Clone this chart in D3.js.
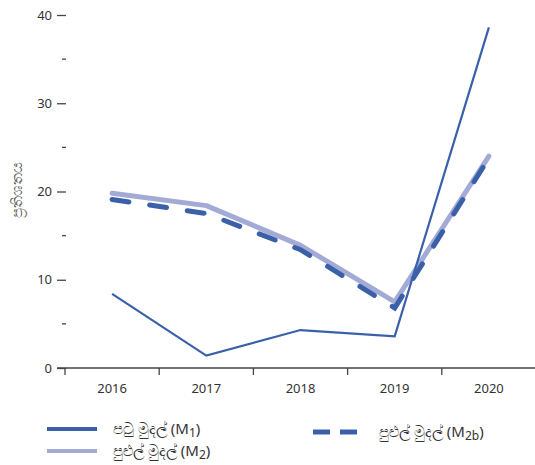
<!DOCTYPE html>
<html>
<head>
<meta charset="utf-8">
<script src="https://cdn.jsdelivr.net/npm/d3@7"></script>
<style>
  body { margin: 0; background: #fff; }
  text { font-family: "Noto Sans", "DejaVu Sans", sans-serif; }
</style>
</head>
<body>
<div id="chart"></div>
<script>
// data
const years = ["2016", "2017", "2018", "2019", "2020"];
const m1 = [8.4, 1.4, 4.3, 3.6, 38.6];
const m2 = [19.8, 18.4, 13.9, 7.5, 24.0];
const m2b = [19.1, 17.5, 13.4, 6.8, 23.8];
const majorTicks = [0, 10, 20, 30, 40];
const minorTicks = [5, 15, 25, 35];

const width = 535, height = 465;
const darkBlue = "#3a60aa", lightBlue = "#a4aad6", axisGrey = "#444";

const svg = d3.select("#chart").append("svg")
    .attr("width", width)
    .attr("height", height);

const x = d3.scaleBand().domain(years).range([65, 536]);
const y = d3.scaleLinear().domain([0, 40]).range([368, 15]);

// y ticks (no axis line)
const yAxis = d3.axisLeft(y).tickValues(majorTicks).tickSize(9).tickPadding(5);
const gy = svg.append("g").attr("transform", "translate(66,0)").call(yAxis);
gy.select(".domain").remove();
gy.selectAll("line").attr("stroke", axisGrey).attr("stroke-width", 1.3);
gy.selectAll("text").attr("fill", "#333").style("font-size", "13px");

svg.append("g").selectAll("line")
    .data(minorTicks).enter()
    .append("line")
    .attr("x1", 62).attr("x2", 66)
    .attr("y1", d => y(d)).attr("y2", d => y(d))
    .attr("stroke", axisGrey).attr("stroke-width", 1.3);

// x axis
svg.append("line")
    .attr("x1", 57).attr("x2", 536)
    .attr("y1", y(0)).attr("y2", y(0))
    .attr("stroke", axisGrey).attr("stroke-width", 1.3);

svg.append("g").selectAll("line")
    .data(years).enter()
    .append("line")
    .attr("x1", d => x(d)).attr("x2", d => x(d))
    .attr("y1", y(0)).attr("y2", y(0) + 7)
    .attr("stroke", axisGrey).attr("stroke-width", 1.3);

svg.append("g").selectAll("text")
    .data(years).enter()
    .append("text")
    .attr("x", d => x(d) + x.bandwidth() / 2)
    .attr("y", 393)
    .attr("text-anchor", "middle")
    .attr("fill", "#333")
    .style("font-size", "13px")
    .text(d => d);

// y label
svg.append("text")
    .attr("transform", "translate(22,190) rotate(-90)")
    .attr("text-anchor", "middle")
    .attr("fill", "#555")
    .style("font-size", "15px")
    .text("ප්‍රතිශතය");

const line = d3.line()
    .x((d, i) => x(years[i]) + x.bandwidth() / 2)
    .y(d => y(d));

svg.append("path").datum(m2)
    .attr("fill", "none").attr("stroke", lightBlue)
    .attr("stroke-width", 5).attr("stroke-linecap", "round")
    .attr("stroke-linejoin", "round")
    .attr("d", line);

svg.append("path").datum(m2b)
    .attr("fill", "none").attr("stroke", darkBlue)
    .attr("stroke-width", 5).attr("stroke-linecap", "round")
    .attr("stroke-dasharray", "17,21")
    .attr("d", line);

svg.append("path").datum(m1)
    .attr("fill", "none").attr("stroke", darkBlue)
    .attr("stroke-width", 2.2)
    .attr("d", line);

// legend
const legend = [
  {label: "පටු මුදල් (M", sub: "1", x: 47, y: 429, color: darkBlue, w: 4, dash: null},
  {label: "පුළුල් මුදල් (M", sub: "2", x: 47, y: 451, color: lightBlue, w: 4, dash: null},
  {label: "පුළුල් මුදල් (M", sub: "2b", x: 313, y: 432, color: darkBlue, w: 5, dash: "17,10"}
];

const lg = svg.append("g").selectAll("g")
    .data(legend).enter()
    .append("g");

lg.append("line")
    .attr("x1", d => d.x).attr("x2", d => d.x + 50)
    .attr("y1", d => d.y).attr("y2", d => d.y)
    .attr("stroke", d => d.color)
    .attr("stroke-width", d => d.w)
    .attr("stroke-dasharray", d => d.dash);

const lt = lg.append("text")
    .attr("x", d => d.x + 66)
    .attr("y", d => d.y + 5)
    .attr("fill", "#333")
    .style("font-size", "15px");
lt.append("tspan").text(d => d.label);
lt.append("tspan").attr("dy", 3).style("font-size", "12px").text(d => d.sub);
lt.append("tspan").attr("dy", -3).text(")");
</script>
</body>
</html>
